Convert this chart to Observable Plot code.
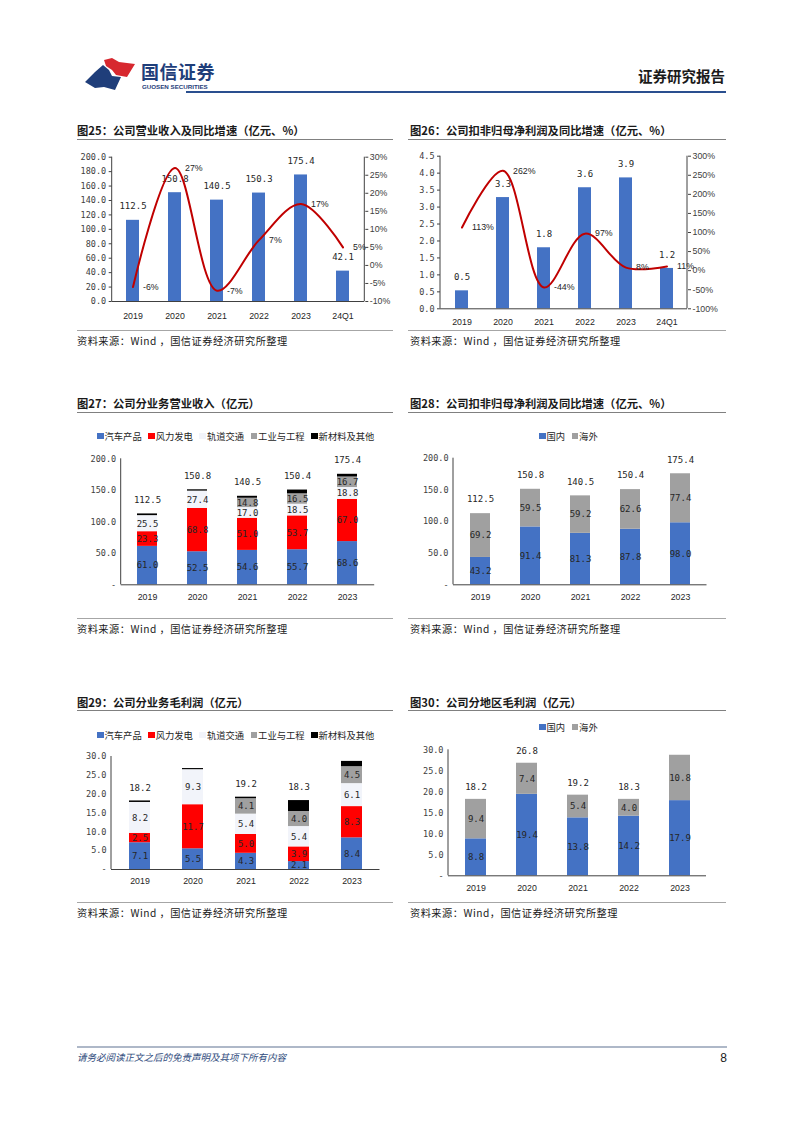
<!DOCTYPE html>
<html><head><meta charset="utf-8">
<script src="https://cdn.jsdelivr.net/npm/d3@7"></script>
<script src="https://cdn.jsdelivr.net/npm/@observablehq/plot@0.6"></script>
<style>
body{margin:0;background:#fff;}
#page{position:relative;width:802px;height:1133px;overflow:hidden;background:#fff;font-family:"Noto Sans CJK SC","Noto Sans",sans-serif;}
#page > *{position:absolute;}
.lg{display:flex;align-items:center;white-space:nowrap;color:#262626;}
.lg span.sq{display:inline-block;width:6.5px;height:6.5px;margin-right:1px;}
.lg span.t{margin-right:6.5px;}
</style></head><body><div id="page"></div>
<script>
// ---------------- data ----------------
const years = ["2019", "2020", "2021", "2022", "2023"];
const periods = ["2019", "2020", "2021", "2022", "2023", "24Q1"];

// 图25 营业收入 (亿元) & 同比 (%)
const revenue = [112.5, 150.8, 140.5, 150.3, 175.4, 42.1];
const revenueYoY = [-6, 27, -7, 7, 17, 5];

// 图26 扣非归母净利润 (亿元) & 同比 (%)
const netProfit = [0.53, 3.28, 1.80, 3.57, 3.86, 1.19];
const netProfitYoY = [113, 262, -44, 97, 8, 11];

// 业务分类
const segNames = ["汽车产品", "风力发电", "轨道交通", "工业与工程", "新材料及其他"];
const segColors = ["#4472C4", "#FF0000", "#F2F4FA", "#A0A0A0", "#000000"];
const segLabeled = [true, true, true, true, false];

// 图27 分业务营业收入
const revAuto = [61.0, 52.5, 54.6, 55.7, 68.6];
const revWind = [23.3, 68.8, 51.0, 53.7, 67.0];
const revRail = [25.5, 27.4, 17.0, 18.5, 18.8];
const revIndustry = [0, 0, 14.8, 16.5, 16.7];
const revOther = [2.7, 2.1, 3.1, 6.0, 4.3];
const revTotalLabels = [112.5, 150.8, 140.5, 150.4, 175.4];

// 地区分类
const regionNames = ["国内", "海外"];
const regionColors = ["#4472C4", "#A0A0A0"];

// 图28 分地区营业收入
const revDomestic = [43.2, 91.4, 81.3, 87.8, 98.0];
const revOverseas = [69.2, 59.5, 59.2, 62.6, 77.4];
const revRegionTotalLabels = [112.5, 150.8, 140.5, 150.4, 175.4];

// 图29 分业务毛利润
const gpAuto = [7.1, 5.5, 4.3, 2.1, 8.4];
const gpWind = [2.5, 11.7, 5.0, 3.9, 8.3];
const gpRail = [8.2, 9.3, 5.4, 5.4, 6.1];
const gpIndustry = [0, 0, 4.1, 4.0, 4.5];
const gpOther = [0.4, 0.3, 0.4, 2.9, 1.4];
const gpTotalLabels = [18.2, null, 19.2, 18.3, null];

// 图30 分地区毛利润
const gpDomestic = [8.8, 19.4, 13.8, 14.2, 17.9];
const gpOverseas = [9.4, 7.4, 5.4, 4.0, 10.8];
const gpRegionTotalLabels = [18.2, 26.8, 19.2, 18.3, null];

// ---------------- helpers ----------------
const page = document.getElementById("page");
const SANS = "'Liberation Sans', Arial, sans-serif";
const MONO = "'DejaVu Sans Mono', monospace";
const AX = "#404040";

function addText(txt, x, y, o = {}) {
  const d = document.createElement("div");
  const size = o.size || 10, lh = Math.round(size * 1.4);
  d.textContent = txt;
  d.style.fontSize = size + "px";
  d.style.lineHeight = lh + "px";
  d.style.top = (y - lh / 2) + "px";
  if (o.anchor === "end") d.style.right = (802 - x) + "px"; else d.style.left = x + "px";
  d.style.whiteSpace = "nowrap";
  d.style.color = o.color || "#1a1a1a";
  if (o.weight) d.style.fontWeight = o.weight;
  if (o.italic) d.style.fontStyle = "italic";
  if (o.family) d.style.fontFamily = o.family;
  if (o.spacing) d.style.letterSpacing = o.spacing;
  page.appendChild(d);
  return d;
}
function addLine(x1, x2, y, color, t = 1) {
  const d = document.createElement("div");
  d.style.left = x1 + "px"; d.style.width = (x2 - x1) + "px";
  d.style.top = (y - t / 2) + "px"; d.style.height = t + "px";
  d.style.background = color;
  page.appendChild(d);
}
function place(node, left, top) {
  node.style.left = left + "px"; node.style.top = top + "px";
  page.appendChild(node);
}
function addLegend(names, colors, x, y, size = 9.3) {
  const d = document.createElement("div");
  d.className = "lg";
  d.style.fontSize = size + "px";
  d.style.lineHeight = "12px";
  d.style.left = x + "px"; d.style.top = (y - 6) + "px";
  names.forEach((n, i) => {
    const s = document.createElement("span"); s.className = "sq"; s.style.background = colors[i];
    const t = document.createElement("span"); t.className = "t"; t.textContent = n;
    d.appendChild(s); d.appendChild(t);
  });
  page.appendChild(d);
}
// vertical axis lines at frame edges
function frameLines(left = true, right = false) {
  return (index, scales, values, dim) => {
    const g = d3.create("svg:g").attr("stroke", AX).attr("stroke-width", 1);
    const y1 = dim.marginTop, y2 = dim.height - dim.marginBottom;
    if (left) g.append("line").attr("x1", dim.marginLeft).attr("x2", dim.marginLeft).attr("y1", y1).attr("y2", y2);
    if (right) g.append("line").attr("x1", dim.width - dim.marginRight).attr("x2", dim.width - dim.marginRight).attr("y1", y1).attr("y2", y2);
    return g.node();
  };
}

function dualChart(c) {
  const k = c.yMax / (c.pMax - c.pMin);
  const map = p => (p - c.pMin) * k;
  const barData = c.periods.map((p, i) => ({p, v: c.bars[i]}));
  const lineData = c.periods.map((p, i) => ({p, v: map(c.pct[i]), t: c.pct[i] + "%"}));
  const leftTicks = d3.range(0, c.yMax + 1e-9, c.yStep);
  const rightTicks = d3.range(c.pMin, c.pMax + 1e-9, c.pStep).map(map);
  return Plot.plot({
    width: c.width, height: c.height,
    marginLeft: c.mL, marginRight: c.mR, marginTop: c.mT, marginBottom: c.mB,
    x: {domain: c.periods, paddingInner: c.pad, paddingOuter: c.pad / 2},
    y: {domain: [0, c.yMax]},
    style: {fontFamily: SANS, fontSize: "8.8px", color: AX, background: "transparent", overflow: "visible"},
    marks: [
      Plot.barY(barData, {x: "p", y: "v", fill: "#4472C4"}),
      Plot.ruleY([0], {stroke: AX}),
      frameLines(true, true),
      Plot.axisY(leftTicks, {tickFormat: d => d.toFixed(1), tickSize: 3, tickPadding: 3, fontFamily: MONO, fontSize: 8.5, label: null}),
      Plot.axisY(rightTicks, {anchor: "right", tickFormat: d => Math.round(d / k + c.pMin) + "%", tickSize: 3, tickPadding: 2, label: null}),
      Plot.axisX({tickSize: 0, tickPadding: c.xPad, label: null, fill: "#262626"}),
      Plot.text(barData, {x: "p", y: "v", text: d => d.v.toFixed(1), dy: c.dy, fontFamily: MONO, fontSize: 9, fill: "#262626"}),
      Plot.line(lineData, {x: "p", y: "v", curve: "catmull-rom", stroke: "#C00000", strokeWidth: 2}),
      Plot.text(lineData, {x: "p", y: "v", text: "t", dx: 10, textAnchor: "start", fill: "#262626"})
    ]
  });
}

function stackedChart(c) {
  const rows = [];
  c.years.forEach((y, i) => c.series.forEach((s, j) => rows.push({year: y, name: c.names[j], v: s[i], lab: c.labeled[j]})));
  const totals = c.years.map((y, i) => ({year: y, v: c.totals[i]})).filter(d => d.v != null);
  const ticks = d3.range(0, c.yMax + 1e-9, c.yStep);
  return Plot.plot({
    width: c.width, height: c.height,
    marginLeft: c.mL, marginRight: c.mR, marginTop: c.mT, marginBottom: c.mB,
    x: {domain: c.years, paddingInner: c.pad, paddingOuter: c.pad / 2},
    y: {domain: [0, c.yMax]},
    color: {domain: c.names, range: c.colors},
    style: {fontFamily: SANS, fontSize: "8.8px", color: AX, background: "transparent", overflow: "visible"},
    marks: [
      Plot.barY(rows, {x: "year", y: "v", fill: "name"}),
      Plot.ruleY([0], {stroke: AX}),
      frameLines(true, false),
      Plot.axisY(ticks, {tickFormat: d => d === 0 ? "-" : d.toFixed(1), tickSize: 0, tickPadding: 5, fontFamily: MONO, fontSize: 8.5, label: null}),
      Plot.axisX({tickSize: 0, tickPadding: c.xPad, label: null, fill: "#262626"}),
      Plot.text(rows, Plot.stackY({x: "year", y: "v", z: "name", text: d => (d.lab && d.v > 0) ? d.v.toFixed(1) : "", fontFamily: MONO, fontSize: 9, fill: "#262626"})),
      Plot.text(totals, {x: "year", y: "v", text: d => d.v.toFixed(1), dy: c.dy, fontFamily: MONO, fontSize: 9, fill: "#262626"})
    ]
  });
}

// ---------------- header ----------------
const logo = d3.create("svg").attr("width", 70).attr("height", 45).style("overflow", "visible");
logo.append("polygon").attr("fill", "#1F3E7A")
  .attr("points", [[85,82],[95,72],[103,65],[109,70],[112,76],[121,77],[115,90],[104,87],[95,88]].map(p => [p[0]-70, p[1]-50].join(",")).join(" "));
logo.append("polygon").attr("fill", "#D7282F")
  .attr("points", [[104,60],[112,58],[119,62],[135,64],[127,77],[116,75],[112,70],[106,66]].map(p => [p[0]-70, p[1]-50].join(",")).join(" "));
place(logo.node(), 70, 50);
addText("国信证券", 141, 71, {size: 18, weight: "bold", color: "#1F3E7A", spacing: "0.5px"});
addText("GUOSEN SECURITIES", 142, 86.5, {size: 6.2, weight: "bold", color: "#1F3E7A", family: SANS});
addText("证券研究报告", 725, 76, {size: 14.5, weight: "bold", anchor: "end", color: "#1a1a1a"});
addLine(186, 726, 92, "#2A4F8F", 2);

// ---------------- titles, rules, sources ----------------
const titleOpts = {size: 11.3, weight: "bold", color: "#1a1a1a"};
addText("图25：公司营业收入及同比增速（亿元、%）", 77, 130, titleOpts);
addText("图26：公司扣非归母净利润及同比增速（亿元、%）", 410, 130, titleOpts);
addText("图27：公司分业务营业收入（亿元）", 77, 403, titleOpts);
addText("图28：公司扣非归母净利润及同比增速（亿元、%）", 410, 403, titleOpts);
addText("图29：公司分业务毛利润（亿元）", 77, 702, titleOpts);
addText("图30：公司分地区毛利润（亿元）", 410, 702, titleOpts);
[139, 412.5, 710.5].forEach(y => { addLine(77, 393, y, "#808080", 1); addLine(408, 726, y, "#808080", 1); });
[330, 618, 902].forEach(y => { addLine(77, 393, y, "#A6A6A6", 1); addLine(408, 726, y, "#A6A6A6", 1); });
const srcOpts = {size: 10.2, color: "#1a1a1a", spacing: "0.5px"};
addText("资料来源：Wind ，国信证券经济研究所整理", 77, 341, srcOpts);
addText("资料来源：Wind ，国信证券经济研究所整理", 410, 341, srcOpts);
addText("资料来源：Wind ，国信证券经济研究所整理", 77, 629, srcOpts);
addText("资料来源：Wind ，国信证券经济研究所整理", 410, 629, srcOpts);
addText("资料来源：Wind ，国信证券经济研究所整理", 77, 913, srcOpts);
addText("资料来源：Wind，国信证券经济研究所整理", 410, 913, srcOpts);

// ---------------- charts ----------------
place(dualChart({periods, bars: revenue, pct: revenueYoY, yMax: 200, yStep: 20, pMin: -10, pMax: 30, pStep: 5,
  width: 330, height: 185, mL: 41.7, mR: 35.7, mT: 11.7, mB: 29, pad: 0.68, xPad: 11, dy: -14}), 70, 145);
place(dualChart({periods, bars: netProfit, pct: netProfitYoY, yMax: 4.5, yStep: 0.5, pMin: -100, pMax: 300, pStep: 50,
  width: 330, height: 190, mL: 40, mR: 43, mT: 10.7, mB: 26.7, pad: 0.69, xPad: 10.4, dy: -13.5}), 400, 145);

addLegend(segNames, segColors, 97, 436);
place(stackedChart({years, series: [revAuto, revWind, revRail, revIndustry, revOther], names: segNames, colors: segColors, labeled: segLabeled,
  totals: revTotalLabels, yMax: 200, yStep: 50, width: 330, height: 165, mL: 50.7, mR: 25.8, mT: 13.3, mB: 25.7, pad: 0.595, xPad: 9.4, dy: -14}), 70, 445);

addLegend(regionNames, regionColors, 539, 436);
place(stackedChart({years, series: [revDomestic, revOverseas], names: regionNames, colors: regionColors, labeled: [true, true],
  totals: revRegionTotalLabels, yMax: 200, yStep: 50, width: 330, height: 165, mL: 53, mR: 23.5, mT: 12.7, mB: 25.7, pad: 0.595, xPad: 9.4, dy: -14}), 400, 445);

addLegend(segNames, segColors, 97, 735);
place(stackedChart({years, series: [gpAuto, gpWind, gpRail, gpIndustry, gpOther], names: segNames, colors: segColors, labeled: segLabeled,
  totals: gpTotalLabels, yMax: 30, yStep: 5, width: 330, height: 150, mL: 41, mR: 20.5, mT: 11, mB: 26, pad: 0.61, xPad: 8.7, dy: -13}), 70, 745);

addLegend(regionNames, regionColors, 539, 727);
place(stackedChart({years, series: [gpDomestic, gpOverseas], names: regionNames, colors: regionColors, labeled: [true, true],
  totals: gpRegionTotalLabels, yMax: 30, yStep: 5, width: 330, height: 160, mL: 48, mR: 24, mT: 9.3, mB: 24.7, pad: 0.59, xPad: 8.6, dy: -12}), 400, 740);

// ---------------- footer ----------------
addLine(77, 727, 1047, "#AEB8C8", 1.5);
addText("请务必阅读正文之后的免责声明及其项下所有内容", 77, 1057, {size: 9.5, italic: true, color: "#2F4B7C"});
addText("8", 727, 1058, {size: 12, anchor: "end", color: "#1a1a1a", family: SANS});
</script></body></html>
